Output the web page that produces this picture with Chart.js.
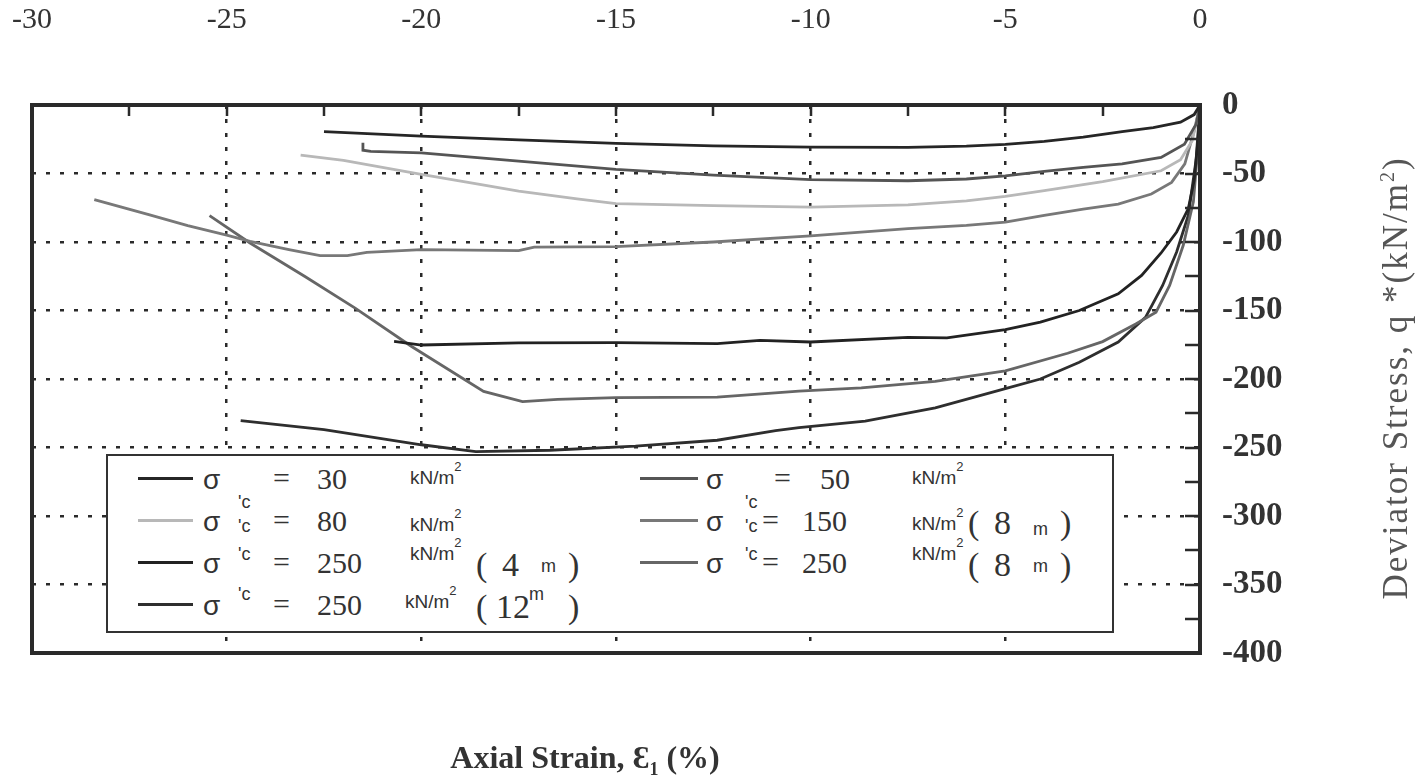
<!DOCTYPE html>
<html><head><meta charset="utf-8">
<script src="https://cdn.jsdelivr.net/npm/chart.js@4.4.1/dist/chart.umd.min.js"></script>
<style>
body{margin:0;background:#fff;}
#wrap{position:relative;width:1423px;height:778px;overflow:hidden;background:#fff;}
#c{position:absolute;left:0;top:0;}
#legend{position:absolute;left:106px;top:454px;width:1004px;height:175px;border:2px solid #333;background:#fff;}
.t{position:absolute;white-space:nowrap;color:#333;line-height:1;transform:translateY(-50%);}
.sig{font-family:"Liberation Sans",Arial,sans-serif;font-size:28px;}
.cm{font-family:"Liberation Sans",Arial,sans-serif;font-size:18px;}
.eq{font-family:"Liberation Serif","Times New Roman",serif;font-size:30px;}
.val{font-family:"Liberation Serif","Times New Roman",serif;font-size:30px;}
.kn{font-family:"Liberation Sans",Arial,sans-serif;font-size:19px;}
.kn sup{font-size:13px;position:relative;top:-5px;}
.par{font-family:"Liberation Serif","Times New Roman",serif;font-size:34px;}
.m{font-family:"Liberation Sans",Arial,sans-serif;font-size:18px;}
.ln{position:absolute;height:3px;}
#xtitle{position:absolute;left:335px;width:500px;top:739px;text-align:center;font-family:"Liberation Serif","Times New Roman",serif;font-weight:bold;font-size:32px;color:#333;white-space:nowrap;}
#xtitle sub{font-size:18px;}
#ytitle{position:absolute;left:1096px;width:600px;top:358px;text-align:center;font-family:"Liberation Serif","Times New Roman",serif;font-size:35px;letter-spacing:2px;color:#555;white-space:nowrap;transform:rotate(-90deg);transform-origin:50% 50%;}
#ytitle sup{font-size:20px;}
</style></head><body>
<div id="wrap">
<canvas id="c" width="1423" height="778"></canvas>
<div id="legend"></div>
<div id="xtitle">Axial Strain, <span>&#400;</span><sub>1</sub> (%)</div>
<div id="ytitle">Deviator Stress, q *(kN/m<sup>2</sup>)</div>
</div>
<script>
// ---------- data ----------
const strainTicks = [-30, -25, -20, -15, -10, -5, 0];
const stressTicks = [0, -50, -100, -150, -200, -250, -300, -350, -400];
const confiningStress = ['30', '50', '80', '150', '250', '250', '250'];
const sampleDepth = ['', '', '', '8', '4', '8', '12'];
const lineColors = ['#262626', '#555555', '#b8b8b8', '#787878', '#222222', '#666666', '#2e2e2e'];

const s30Strain = [-22.5, -20, -17.5, -15, -12.5, -10, -7.5, -6, -5, -4, -3, -2, -1.2, -0.5, -0.15, 0];
const s30Stress = [-19.5, -22.7, -25.5, -28, -29.8, -30.8, -31, -30, -28.7, -26.5, -23.5, -19.5, -16.5, -12.5, -7, 0];

const s50Strain = [-21.5, -21.5, -21.3, -20, -17.5, -15, -12.5, -10, -7.5, -6, -5, -4, -3, -2, -1, -0.4, -0.1, 0];
const s50Stress = [-27.5, -33, -33.8, -35, -41, -47, -51.2, -54.5, -55.3, -54, -51.7, -48.5, -45.5, -43, -38.3, -28.6, -14, 0];

const s80Strain = [-23.1, -22, -20, -18.5, -17.5, -16, -15, -12.5, -10, -7.5, -6, -5, -4, -2.5, -1, -0.5, -0.2, 0];
const s80Stress = [-36.6, -40.5, -50.7, -58, -62.9, -68.5, -72, -73.4, -74.6, -72.9, -70, -66.7, -62.5, -56, -48, -40, -26, 0];

const s150Strain = [-28.4, -27, -26, -25, -24.4, -23.4, -22.6, -21.9, -21.4, -20, -17.5, -17.1, -15, -12.5, -10, -7.5, -6, -5, -4, -3, -2.1, -1.25, -0.73, -0.39, -0.15, 0];
const s150Stress = [-69, -80, -88, -95, -99.5, -105.6, -110, -110, -107.6, -105.6, -106.3, -103.7, -103.4, -100, -95.6, -90.3, -87.9, -85.5, -80.5, -76, -72.3, -65, -56.5, -43, -19, 0];

const s250aStrain = [-20.7, -20, -17.5, -15, -12.4, -11.3, -10, -7.5, -6.5, -5, -4.1, -3.1, -2.1, -1.5, -1, -0.6, -0.3, -0.15, -0.05, 0];
const s250aStress = [-172.5, -175.2, -173.7, -173.4, -174.2, -171.8, -173, -169.6, -170, -164, -158.5, -150, -137.8, -124.4, -108, -92.7, -75.6, -55, -25, 0];

const s250bStrain = [-25.44, -24.4, -23, -21.7, -20.25, -18.4, -17.4, -16.5, -15, -12.4, -10.3, -8.7, -6.8, -5, -3.4, -2.5, -1.65, -1.13, -0.78, -0.43, -0.17, -0.05, 0];
const s250bStress = [-80.7, -100.7, -125, -148.3, -176.3, -209, -216.5, -214.8, -213.6, -213.2, -208.9, -206.5, -201.7, -194, -181.2, -172.7, -159.8, -151.2, -131.7, -102.4, -70.7, -30, 0];

const s250cStrain = [-24.64, -22.5, -20, -18.6, -16.7, -14.5, -12.4, -10.9, -10.3, -8.6, -6.8, -5, -4.1, -3.1, -2.1, -1.4, -0.96, -0.6, -0.3, -0.1, 0];
const s250cStress = [-230.4, -237, -248, -253, -252, -249, -244.7, -237.6, -235.5, -230.7, -221, -207, -200, -187.8, -173, -155, -131.7, -107.3, -80.5, -40, 0];

const seriesStrain = [s30Strain, s50Strain, s80Strain, s150Strain, s250aStrain, s250bStrain, s250cStrain];
const seriesStress = [s30Stress, s50Stress, s80Stress, s150Stress, s250aStress, s250bStress, s250cStress];

// ---------- chart ----------
const datasets = seriesStrain.map((xs, i) => ({
  label: "σ'c = " + confiningStress[i] + " kN/m²" + (sampleDepth[i] ? " (" + sampleDepth[i] + " m)" : ""),
  data: xs.map((x, j) => ({x: x, y: seriesStress[i][j]})),
  showLine: true,
  borderColor: lineColors[i],
  backgroundColor: lineColors[i],
  borderWidth: 2.8,
  pointRadius: 0,
  tension: 0
}));

const framePlugin = {
  id: 'frame',
  afterDatasetsDraw(chart) {
    const ctx = chart.ctx, a = chart.chartArea;
    const xs = chart.scales.x, ys = chart.scales.y;
    ctx.save();
    ctx.strokeStyle = '#2a2a2a';
    ctx.lineWidth = 2.5;
    ctx.beginPath();
    for (let v = -27.5; v < 0; v += 2.5) {
      const px = Math.round(xs.getPixelForValue(v));
      ctx.moveTo(px, a.top); ctx.lineTo(px, a.top + 11);
    }
    for (let v = -25; v > -400; v -= 25) {
      const py = Math.round(ys.getPixelForValue(v));
      ctx.moveTo(a.right, py); ctx.lineTo(a.right - 15, py);
    }
    ctx.stroke();
    ctx.lineWidth = 4;
    ctx.strokeRect(a.left, a.top, a.right - a.left, a.bottom - a.top);
    ctx.restore();
  }
};

new Chart(document.getElementById('c'), {
  type: 'scatter',
  data: {datasets: datasets},
  options: {
    responsive: false,
    animation: false,
    layout: {padding: {left: 32, top: 0, right: 0, bottom: 125}},
    plugins: {legend: {display: false}, tooltip: {enabled: false}},
    scales: {
      x: {
        type: 'linear', position: 'top', min: -30, max: 0,
        afterBuildTicks: s => { s.ticks = strainTicks.map(v => ({value: v})); },
        afterFit: s => { s.height = 105; s.paddingLeft = 0; s.paddingRight = 0; },
        ticks: {font: {family: 'Liberation Serif', size: 30}, color: '#333', padding: 67},
        grid: {color: '#2a2a2a', lineWidth: 2.5, drawTicks: false},
        border: {display: false, dash: [4, 10]}
      },
      y: {
        type: 'linear', position: 'right', min: -400, max: 0,
        afterBuildTicks: s => { s.ticks = stressTicks.map(v => ({value: v})); },
        afterFit: s => { s.width = 223; s.paddingTop = 0; s.paddingBottom = 0; },
        ticks: {font: {family: 'Liberation Serif', size: 33, weight: 'bold'}, color: '#333', padding: 22},
        grid: {color: '#2a2a2a', lineWidth: 2.5, drawTicks: false},
        border: {display: false, dash: [4, 10]}
      }
    }
  },
  plugins: [framePlugin]
});

// ---------- legend (HTML text) ----------
const legendPlace = [
  {col: 0, row: 0, c: 24, k: -2}, {col: 1, row: 0, c: 24, k: -2},
  {col: 0, row: 1, c: 6, k: 3}, {col: 1, row: 1, c: 6, k: 2},
  {col: 0, row: 2, c: -8, k: -10}, {col: 1, row: 2, c: -8, k: -10},
  {col: 0, row: 3, c: -10, k: -4}
];
const colX = [
  {line: 138, sig: 203, c: 238, eq: 273, val: 317, kn: 410, par: 476},
  {line: 640, sig: 706, c: 745, eq: 762, val: 802, kn: 912, par: 968}
];
const rowY = [478, 520, 562, 604];
const wrap = document.getElementById('wrap');
function add(cls, html, x, y) {
  const d = document.createElement('div');
  d.className = 't ' + cls; d.innerHTML = html;
  d.style.left = x + 'px'; d.style.top = y + 'px';
  wrap.appendChild(d); return d;
}
legendPlace.forEach((p, i) => {
  const cx = colX[p.col], y = rowY[p.row];
  const ln = document.createElement('div');
  ln.className = 'ln'; ln.style.left = cx.line + 'px'; ln.style.top = (y - 1) + 'px';
  ln.style.width = (p.col ? 58 : 55) + 'px'; ln.style.background = lineColors[i];
  wrap.appendChild(ln);
  add('sig', 'σ', cx.sig, y + 2);
  add('cm', "'c", cx.c, y + p.c);
  const first = (p.col === 1 && p.row === 0);
  add('eq', '=', first ? 774 : cx.eq, y);
  add('val', confiningStress[i], first ? 820 : cx.val, y + 1);
  add('kn', 'kN/m<sup>2</sup>', cx.kn - (p.row === 3 ? 5 : 0), y + p.k);
  if (sampleDepth[i]) {
    add('par', '(', cx.par, y + 3);
    add('par', sampleDepth[i], cx.par + (sampleDepth[i].length > 1 ? 20 : 26), y + 3);
    const my = p.row === 3 ? y - 10 : (p.row === 1 ? y + 9 : y + 4);
    const mx = p.row === 3 ? cx.par + 53 : cx.par + 65;
    add('m', 'm', mx, my);
    add('par', ')', cx.par + 92, y + 3);
  }
});
</script>
</body></html>
